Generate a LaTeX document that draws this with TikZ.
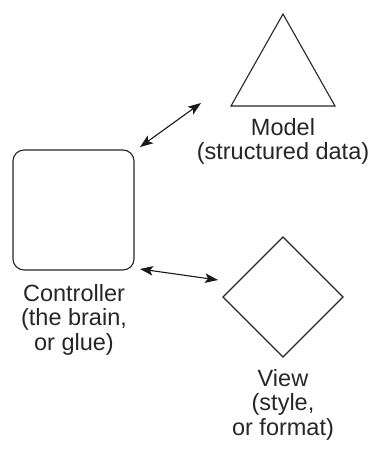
\documentclass[tikz,border=0pt]{standalone}
\usepackage{fontspec}
\setmainfont{Liberation Sans}
\usetikzlibrary{arrows.meta}
\begin{document}
\begin{tikzpicture}[x=1pt,y=-1pt,
  shapeline/.style={draw=black!85, line width=1.1pt},
  lbl/.style={align=center, font=\fontsize{23.5}{24.5}\selectfont, inner sep=0pt, text=black!85},
  link/.style={line width=1.1pt, draw=black!90, {Stealth[length=13pt,width=9.5pt,inset=3pt]}-{Stealth[length=13pt,width=9.5pt,inset=3pt]}}]
\useasboundingbox (0,0) rectangle (378,450);
\draw[shapeline, line join=miter] (283,14) -- (335,106) -- (231,106) -- cycle;
\node[shapeline, rounded corners=11pt, minimum width=121pt, minimum height=120pt, inner sep=0pt] (ctrl) at (73.5,210) {};
\draw[shapeline] (283,237) -- (343,297) -- (283,357) -- (223,297) -- cycle;
\coordinate (m) at (201,103);
\coordinate (c1) at (140,147);
\coordinate (c2) at (140,269);
\coordinate (v) at (218,280);
\draw[link] (c1) -- (m);
\draw[link] (c2) -- (v);
\node[lbl, anchor=north] (modeltxt) at (283,118) {Model\\(structured data)};
\node[lbl, anchor=north] (ctrltxt) at (74,284) {Controller\\(the brain,\\or glue)};
\node[lbl, anchor=north] (viewtxt) at (283,369) {View\\(style,\\or format)};
\end{tikzpicture}
\end{document}
